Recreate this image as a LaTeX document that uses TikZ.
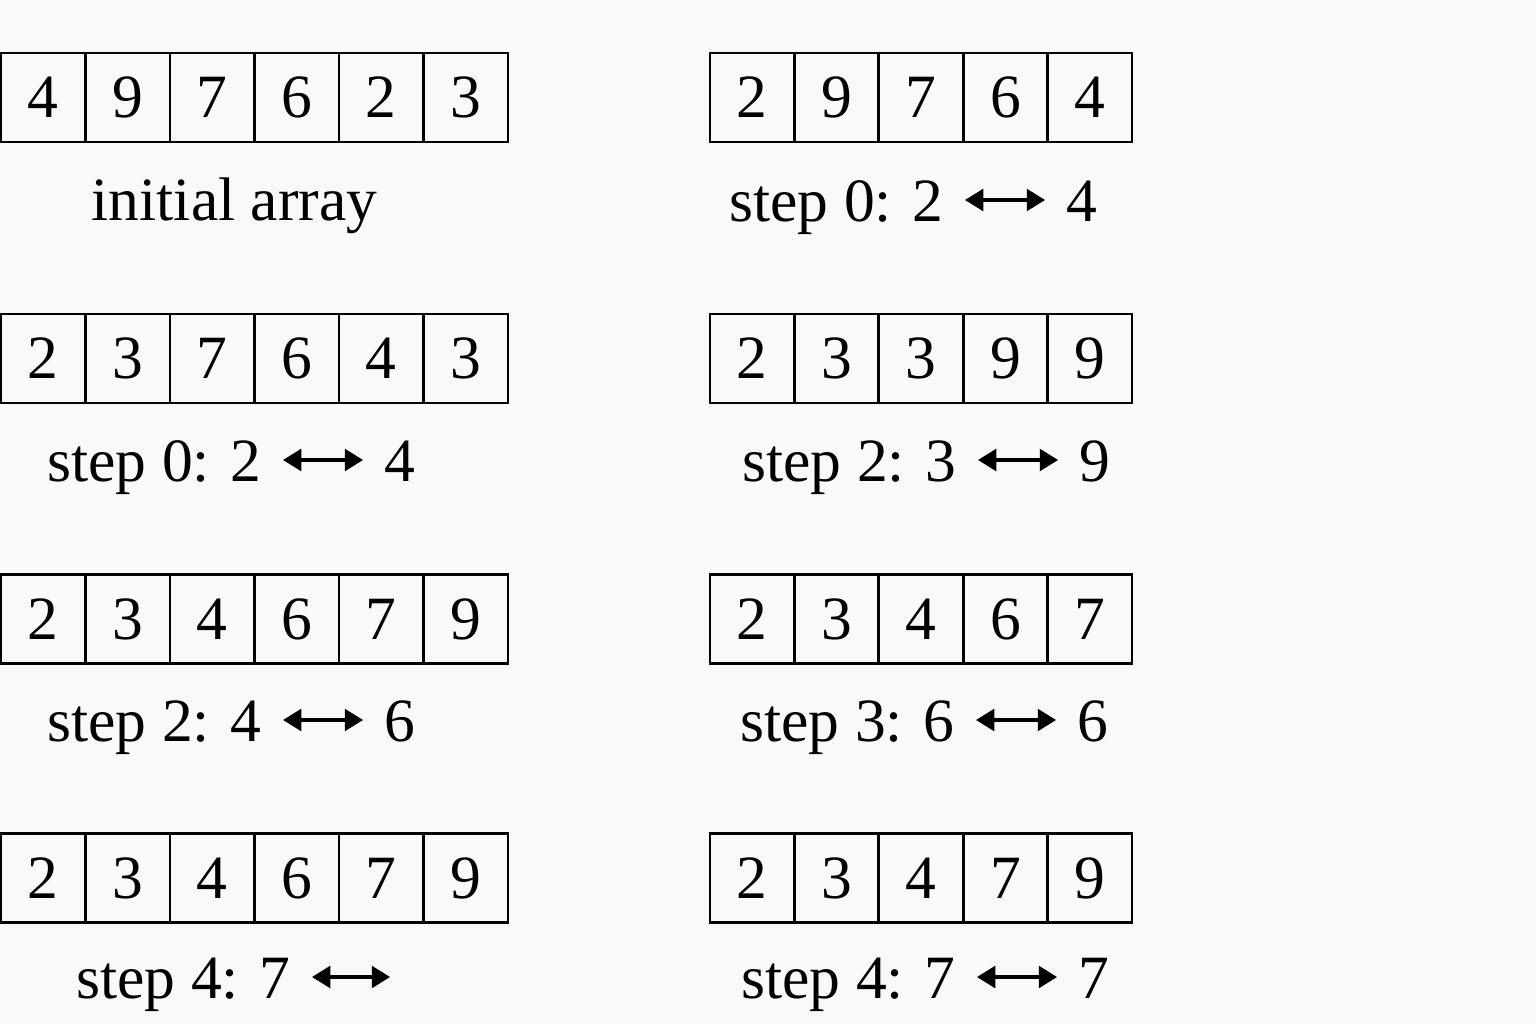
\documentclass[tikz,border=0pt]{standalone}
\usepackage{fontspec}
\setmainfont{Liberation Serif}
\usetikzlibrary{arrows.meta,positioning}
\definecolor{bgcol}{HTML}{F9F9F9}

\tikzset{
  cell/.style={draw, line width=0.8pt, minimum width=0.845cm, minimum height=0.89cm,
    inner sep=0pt, font=\fontsize{17.5}{21}\selectfont},
  steptxt/.style={inner xsep=6pt, inner ysep=0pt, text height=12pt, text depth=0pt,
    font=\fontsize{17.5}{21}\selectfont},
  swaparrow/.style={line width=0.9pt, {Triangle[length=5.2pt,width=6.2pt]}-{Triangle[length=5.2pt,width=6.2pt]}}
}

\begin{document}
\begin{tikzpicture}[x=0.01cm,y=-0.01cm]
        \fill[bgcol] (0,0) rectangle (1536,1024);
        \useasboundingbox (0,0) rectangle (1536,1024);
        % row 1
        \foreach \v [count=\i] in {4,9,7,6,2,3}
          \node[cell] (a1-\i) at ({1+84.5*(\i-0.5)},97.5) {\v};
        \foreach \v [count=\i] in {2,9,7,6,4}
          \node[cell] (b1-\i) at ({710+84.4*(\i-0.5)},97.5) {\v};
        \node[steptxt, anchor=base] (init) at (234.5,220) {initial array};
        \node[steptxt, anchor=east] (s1r) at (965,200) {step 0: 2};
        \node[steptxt, right=0.8cm of s1r] (t1r) {4};
        \draw[swaparrow] (s1r) -- (t1r);
        % row 2
        \foreach \v [count=\i] in {2,3,7,6,4,3}
          \node[cell] (a2-\i) at ({1+84.5*(\i-0.5)},358.5) {\v};
        \foreach \v [count=\i] in {2,3,3,9,9}
          \node[cell] (b2-\i) at ({710+84.4*(\i-0.5)},358.5) {\v};
        \node[steptxt, anchor=east] (s2l) at (283,460) {step 0: 2};
        \node[steptxt, right=0.8cm of s2l] (t2l) {4};
        \draw[swaparrow] (s2l) -- (t2l);
        \node[steptxt, anchor=east] (s2r) at (978,460) {step 2: 3};
        \node[steptxt, right=0.8cm of s2r] (t2r) {9};
        \draw[swaparrow] (s2r) -- (t2r);
        % row 3
        \foreach \v [count=\i] in {2,3,4,6,7,9}
          \node[cell] (a3-\i) at ({1+84.5*(\i-0.5)},619) {\v};
        \foreach \v [count=\i] in {2,3,4,6,7}
          \node[cell] (b3-\i) at ({710+84.4*(\i-0.5)},619) {\v};
        \node[steptxt, anchor=east] (s3l) at (283,720) {step 2: 4};
        \node[steptxt, right=0.8cm of s3l] (t3l) {6};
        \draw[swaparrow] (s3l) -- (t3l);
        \node[steptxt, anchor=east] (s3r) at (976,720) {step 3: 6};
        \node[steptxt, right=0.8cm of s3r] (t3r) {6};
        \draw[swaparrow] (s3r) -- (t3r);
        % row 4
        \foreach \v [count=\i] in {2,3,4,6,7,9}
          \node[cell] (a4-\i) at ({1+84.5*(\i-0.5)},878) {\v};
        \foreach \v [count=\i] in {2,3,4,7,9}
          \node[cell] (b4-\i) at ({710+84.4*(\i-0.5)},878) {\v};
        \node[steptxt, anchor=east] (s4l) at (312,977) {step 4: 7};
        \coordinate[right=0.78cm of s4l] (e4l);
        \draw[swaparrow] (s4l) -- (e4l);
        \node[steptxt, anchor=east] (s4r) at (977,977) {step 4: 7};
        \node[steptxt, right=0.8cm of s4r] (t4r) {7};
        \draw[swaparrow] (s4r) -- (t4r);
    \end{tikzpicture}
\end{document}
